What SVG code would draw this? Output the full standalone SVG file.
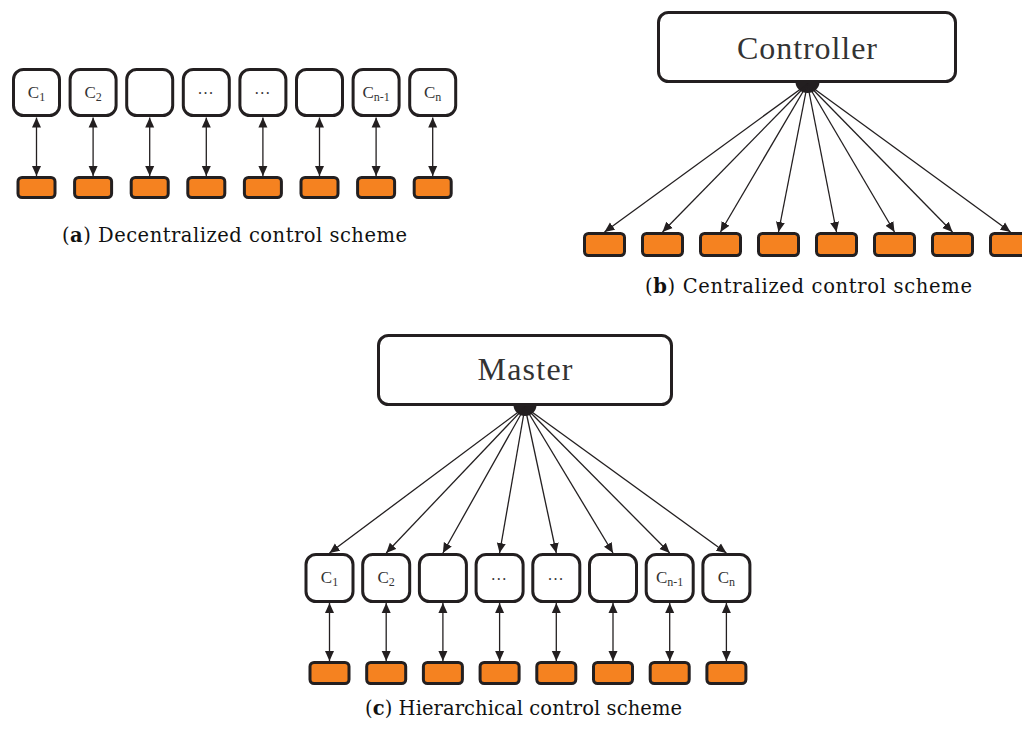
<svg xmlns="http://www.w3.org/2000/svg" width="1022" height="731" viewBox="0 0 1022 731">
<style>
.ctl{fill:#fff;stroke:#231F20;stroke-width:3}
.act{fill:#F58220;stroke:#231F20;stroke-width:3}
.big{fill:#fff;stroke:#231F20;stroke-width:3}
.lbl{font-family:"Liberation Serif",serif;font-size:17px;fill:#333;text-anchor:middle}
.sub{font-size:12px}
.dots{font-family:"Liberation Serif",serif;font-size:16px;fill:#333;text-anchor:middle;letter-spacing:1.5px}
.title{font-family:"Liberation Serif",serif;font-size:32px;fill:#333;text-anchor:middle}
.cap{font-family:"DejaVu Serif",serif;font-size:19.5px;fill:#111;text-anchor:middle}
.conn line{stroke:#231F20;stroke-width:1.3}
.bi{marker-start:url(#ah);marker-end:url(#ah)}
.one{marker-end:url(#ah)}
.blob{fill:#231F20}
</style>
<defs>
<marker id="ah" viewBox="0 0 10 10" refX="10" refY="5" markerWidth="10" markerHeight="10" markerUnits="userSpaceOnUse" orient="auto-start-reverse">
<path d="M0,0.5 L10,5 L0,9.5 Z" fill="#231F20"/>
</marker>
</defs>

<!-- Panel (a) -->
<g id="a-c1"><rect class="ctl" x="13.5" y="69.5" width="46" height="46" rx="10"/><text class="lbl" x="36.5" y="97.5">C<tspan class="sub" dy="3">1</tspan></text></g>
<g id="a-c2"><rect class="ctl" x="70.1" y="69.5" width="46" height="46" rx="10"/><text class="lbl" x="93.1" y="97.5">C<tspan class="sub" dy="3">2</tspan></text></g>
<g id="a-c3"><rect class="ctl" x="126.7" y="69.5" width="46" height="46" rx="10"/></g>
<g id="a-c4"><rect class="ctl" x="183.3" y="69.5" width="46" height="46" rx="10"/><text class="dots" x="206.3" y="94">...</text></g>
<g id="a-c5"><rect class="ctl" x="239.9" y="69.5" width="46" height="46" rx="10"/><text class="dots" x="262.9" y="94">...</text></g>
<g id="a-c6"><rect class="ctl" x="296.5" y="69.5" width="46" height="46" rx="10"/></g>
<g id="a-c7"><rect class="ctl" x="353.1" y="69.5" width="46" height="46" rx="10"/><text class="lbl" x="376.1" y="97.5">C<tspan class="sub" dy="3">n-1</tspan></text></g>
<g id="a-c8"><rect class="ctl" x="409.7" y="69.5" width="46" height="46" rx="10"/><text class="lbl" x="432.7" y="97.5">C<tspan class="sub" dy="3">n</tspan></text></g>
<g id="a-p1"><rect class="act" x="18" y="177.5" width="37" height="20" rx="4"/></g>
<g id="a-p2"><rect class="act" x="74.6" y="177.5" width="37" height="20" rx="4"/></g>
<g id="a-p3"><rect class="act" x="131.2" y="177.5" width="37" height="20" rx="4"/></g>
<g id="a-p4"><rect class="act" x="187.8" y="177.5" width="37" height="20" rx="4"/></g>
<g id="a-p5"><rect class="act" x="244.4" y="177.5" width="37" height="20" rx="4"/></g>
<g id="a-p6"><rect class="act" x="301" y="177.5" width="37" height="20" rx="4"/></g>
<g id="a-p7"><rect class="act" x="357.6" y="177.5" width="37" height="20" rx="4"/></g>
<g id="a-p8"><rect class="act" x="414.2" y="177.5" width="37" height="20" rx="4"/></g>
<g id="a-connectors" class="conn">
<line class="bi" x1="36.5" y1="117.5" x2="36.5" y2="176"/>
<line class="bi" x1="93.1" y1="117.5" x2="93.1" y2="176"/>
<line class="bi" x1="149.7" y1="117.5" x2="149.7" y2="176"/>
<line class="bi" x1="206.3" y1="117.5" x2="206.3" y2="176"/>
<line class="bi" x1="262.9" y1="117.5" x2="262.9" y2="176"/>
<line class="bi" x1="319.5" y1="117.5" x2="319.5" y2="176"/>
<line class="bi" x1="376.1" y1="117.5" x2="376.1" y2="176"/>
<line class="bi" x1="432.7" y1="117.5" x2="432.7" y2="176"/>
</g>
<text class="cap" x="234.5" y="242" textLength="345">(<tspan font-weight="bold">a</tspan>) Decentralized control scheme</text>

<!-- Panel (b) -->
<g id="b-controller"><rect class="big" x="658.5" y="12.5" width="297" height="69" rx="10"/><text class="title" x="807" y="59" textLength="140">Controller</text></g>
<g id="b-p1"><rect class="act" x="584.5" y="233.5" width="40" height="22" rx="4"/></g>
<g id="b-p2"><rect class="act" x="642.5" y="233.5" width="40" height="22" rx="4"/></g>
<g id="b-p3"><rect class="act" x="700.5" y="233.5" width="40" height="22" rx="4"/></g>
<g id="b-p4"><rect class="act" x="758.5" y="233.5" width="40" height="22" rx="4"/></g>
<g id="b-p5"><rect class="act" x="816.5" y="233.5" width="40" height="22" rx="4"/></g>
<g id="b-p6"><rect class="act" x="874.5" y="233.5" width="40" height="22" rx="4"/></g>
<g id="b-p7"><rect class="act" x="932.5" y="233.5" width="40" height="22" rx="4"/></g>
<g id="b-p8"><rect class="act" x="990.5" y="233.5" width="40" height="22" rx="4"/></g>
<g id="b-connectors" class="conn">
<path class="blob" d="M795.5,82 A12,11 0 0 0 819.5,82 Z"/>
<line class="one" x1="807.5" y1="84" x2="604.5" y2="232"/>
<line class="one" x1="807.5" y1="84" x2="662.5" y2="232"/>
<line class="one" x1="807.5" y1="84" x2="720.5" y2="232"/>
<line class="one" x1="807.5" y1="84" x2="778.5" y2="232"/>
<line class="one" x1="807.5" y1="84" x2="836.5" y2="232"/>
<line class="one" x1="807.5" y1="84" x2="894.5" y2="232"/>
<line class="one" x1="807.5" y1="84" x2="952.5" y2="232"/>
<line class="one" x1="807.5" y1="84" x2="1010.5" y2="232"/>
</g>
<text class="cap" x="808.5" y="293" textLength="327">(<tspan font-weight="bold">b</tspan>) Centralized control scheme</text>

<!-- Panel (c) -->
<g id="c-master"><rect class="big" x="378.5" y="335.5" width="293" height="69" rx="10"/><text class="title" x="525" y="380" textLength="95">Master</text></g>
<g id="c-c1"><rect class="ctl" x="306" y="554.5" width="47" height="47" rx="10"/><text class="lbl" x="329.5" y="583">C<tspan class="sub" dy="3">1</tspan></text></g>
<g id="c-c2"><rect class="ctl" x="362.7" y="554.5" width="47" height="47" rx="10"/><text class="lbl" x="386.2" y="583">C<tspan class="sub" dy="3">2</tspan></text></g>
<g id="c-c3"><rect class="ctl" x="419.4" y="554.5" width="47" height="47" rx="10"/></g>
<g id="c-c4"><rect class="ctl" x="476.1" y="554.5" width="47" height="47" rx="10"/><text class="dots" x="499.6" y="579.5">...</text></g>
<g id="c-c5"><rect class="ctl" x="532.8" y="554.5" width="47" height="47" rx="10"/><text class="dots" x="556.3" y="579.5">...</text></g>
<g id="c-c6"><rect class="ctl" x="589.5" y="554.5" width="47" height="47" rx="10"/></g>
<g id="c-c7"><rect class="ctl" x="646.2" y="554.5" width="47" height="47" rx="10"/><text class="lbl" x="669.7" y="583">C<tspan class="sub" dy="3">n-1</tspan></text></g>
<g id="c-c8"><rect class="ctl" x="702.9" y="554.5" width="47" height="47" rx="10"/><text class="lbl" x="726.4" y="583">C<tspan class="sub" dy="3">n</tspan></text></g>
<g id="c-p1"><rect class="act" x="310" y="662.5" width="39" height="21" rx="4"/></g>
<g id="c-p2"><rect class="act" x="366.7" y="662.5" width="39" height="21" rx="4"/></g>
<g id="c-p3"><rect class="act" x="423.4" y="662.5" width="39" height="21" rx="4"/></g>
<g id="c-p4"><rect class="act" x="480.1" y="662.5" width="39" height="21" rx="4"/></g>
<g id="c-p5"><rect class="act" x="536.8" y="662.5" width="39" height="21" rx="4"/></g>
<g id="c-p6"><rect class="act" x="593.5" y="662.5" width="39" height="21" rx="4"/></g>
<g id="c-p7"><rect class="act" x="650.2" y="662.5" width="39" height="21" rx="4"/></g>
<g id="c-p8"><rect class="act" x="706.9" y="662.5" width="39" height="21" rx="4"/></g>
<g id="c-connectors" class="conn">
<path class="blob" d="M513.5,405 A11.5,11 0 0 0 536.5,405 Z"/>
<line class="one" x1="525" y1="407" x2="329.5" y2="553"/>
<line class="one" x1="525" y1="407" x2="386.2" y2="553"/>
<line class="one" x1="525" y1="407" x2="442.9" y2="553"/>
<line class="one" x1="525" y1="407" x2="499.6" y2="553"/>
<line class="one" x1="525" y1="407" x2="556.3" y2="553"/>
<line class="one" x1="525" y1="407" x2="613" y2="553"/>
<line class="one" x1="525" y1="407" x2="669.7" y2="553"/>
<line class="one" x1="525" y1="407" x2="726.4" y2="553"/>
<line class="bi" x1="329.5" y1="603" x2="329.5" y2="661"/>
<line class="bi" x1="386.2" y1="603" x2="386.2" y2="661"/>
<line class="bi" x1="442.9" y1="603" x2="442.9" y2="661"/>
<line class="bi" x1="499.6" y1="603" x2="499.6" y2="661"/>
<line class="bi" x1="556.3" y1="603" x2="556.3" y2="661"/>
<line class="bi" x1="613" y1="603" x2="613" y2="661"/>
<line class="bi" x1="669.7" y1="603" x2="669.7" y2="661"/>
<line class="bi" x1="726.4" y1="603" x2="726.4" y2="661"/>
</g>
<text class="cap" x="523.5" y="715" textLength="317">(<tspan font-weight="bold">c</tspan>) Hierarchical control scheme</text>
</svg>
